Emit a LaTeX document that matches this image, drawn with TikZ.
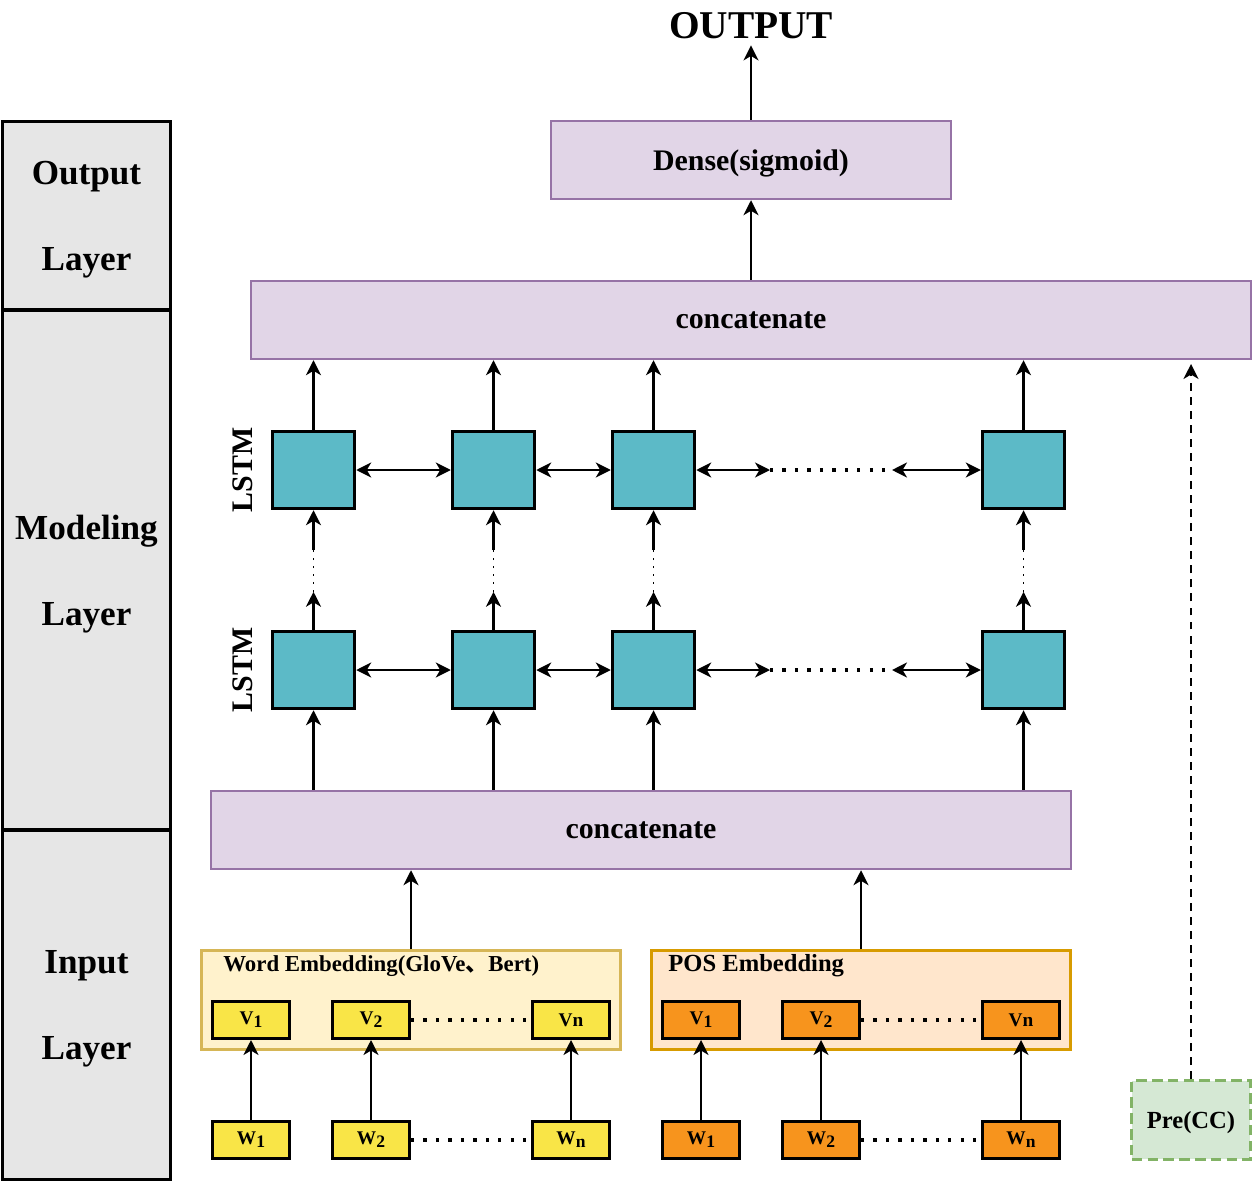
\documentclass[tikz,border=0pt]{standalone}
\usepackage{fontspec}
\setmainfont{Liberation Serif}
\newfontfamily\cjkfont{Noto Sans CJK SC}
\usetikzlibrary{arrows.meta,calc}

\definecolor{layergray}{HTML}{E6E6E6}
\definecolor{violetfill}{HTML}{E1D5E7}
\definecolor{violetline}{HTML}{9673A6}
\definecolor{lstmteal}{HTML}{5CBAC7}
\definecolor{wordfill}{HTML}{FFF2CC}
\definecolor{wordline}{HTML}{D6B656}
\definecolor{posfill}{HTML}{FFE6CC}
\definecolor{posline}{HTML}{D79B00}
\definecolor{tokyellow}{HTML}{F9E547}
\definecolor{tokorange}{HTML}{F7941D}
\definecolor{prefill}{HTML}{D5E8D4}
\definecolor{preline}{HTML}{82B366}

\newcommand{\tsub}[1]{\raisebox{-0.35ex}{\fontsize{10}{10}\selectfont #1}}

\begin{document}
\begin{tikzpicture}[x=0.02cm,y=-0.02cm,font=\bfseries,
	arr/.style={line width=1.4pt,-{Stealth[length=8.5pt,width=8.5pt,inset=2.5pt]}},
	darr/.style={line width=1.4pt,{Stealth[length=8.5pt,width=8.5pt,inset=2.5pt]}-{Stealth[length=8.5pt,width=8.5pt,inset=2.5pt]}},
	hdots/.style={line width=1.8pt,dash pattern=on 1.8pt off 5.3pt},
	vdots/.style={line width=1.1pt,dash pattern=on 1.1pt off 3.4pt},
	layerbox/.style={draw,line width=1.7pt,fill=layergray,minimum width=3.36cm,inner sep=0pt,align=center,text depth=0pt,font=\bfseries\fontsize{20}{49}\selectfont},
	purplebox/.style={draw=violetline,line width=1.4pt,fill=violetfill,minimum height=1.56cm,inner sep=0pt,text depth=0pt,font=\bfseries\fontsize{17}{20}\selectfont},
	lstm/.style={draw,line width=1.7pt,fill=lstmteal,minimum width=1.65cm,minimum height=1.55cm,inner sep=0pt},
	embbox/.style={line width=1.5pt,minimum width=8.37cm,minimum height=1.97cm,inner sep=0pt},
	tokbox/.style={draw,line width=1.7pt,minimum width=1.54cm,minimum height=0.74cm,inner sep=0pt,font=\bfseries\fontsize{11}{13}\selectfont},
	]
	\useasboundingbox (0,0) rectangle (1253,1182);

	% layer column
	\node[layerbox,minimum height=3.77cm] (outlayer) at (86.5,215.75) {Output\\Layer};
	\node[layerbox,minimum height=10.4cm] (modlayer) at (86.5,570) {Modeling\\Layer};
	\node[layerbox,minimum height=6.99cm] (inlayer) at (86.5,1004.75) {Input\\Layer};

	% output part
	\node[font=\bfseries\fontsize{22.4}{26}\selectfont] (output) at (751,26) {OUTPUT};
	\node[purplebox,minimum width=8cm] (dense) at (751,160) {Dense(sigmoid)};
	\node[purplebox,minimum width=20cm] (topcat) at (751,320) {concatenate};
	\node[purplebox,minimum width=17.2cm] (botcat) at (641,830) {concatenate};
	\draw[arr] (dense.north) -- (output.south);
	\draw[arr] (topcat.north) -- (dense.south);

	% lstm grid
	\foreach \r/\y in {a/670,b/470}{
		\foreach \i/\x in {1/313.5,2/493.5,3/653.5,4/1023.5}
			\node[lstm] (l\r\i) at (\x,\y) {};
		\coordinate (l\r L) at (770,\y);
		\coordinate (l\r R) at (892,\y);
		\draw[darr] (l\r1.east) -- (l\r2.west);
		\draw[darr] (l\r2.east) -- (l\r3.west);
		\draw[darr] (l\r3.east) -- (l\r L);
		\draw[hdots] (l\r L) -- (l\r R);
		\draw[darr] (l\r R) -- (l\r4.west);
		\node[rotate=90,font=\bfseries\fontsize{17}{20}\selectfont] (lab\r) at (243,\y) {LSTM};
	}
	\foreach \i in {1,...,4}{
		\coordinate (m\i a) at ($(la\i.north)+(0,-38)$);
		\coordinate (m\i b) at ($(lb\i.south)+(0,40)$);
		\draw[arr] (la\i.north) -- (m\i a);
		\draw[vdots] (m\i a) -- (m\i b);
		\draw[arr] (m\i b) -- (lb\i.south);
		\draw[arr] (la\i.south |- botcat.north) -- (la\i.south);
		\draw[arr] (lb\i.north) -- (lb\i.north |- topcat.south);
	}

	% embeddings
	\node[embbox,draw=wordline,fill=wordfill] (word) at (411,1000) {};
	\node[embbox,draw=posline,fill=posfill] (pos) at (861,1000) {};
	\node[anchor=west,inner sep=0pt,font=\bfseries\fontsize{13}{15}\selectfont] (wordlab) at (223,966) {Word Embedding(GloVe{\cjkfont\bfseries 、}Bert)};
	\node[anchor=west,inner sep=0pt,font=\bfseries\fontsize{14}{16}\selectfont] (poslab) at (668,966) {POS Embedding};
	\draw[arr] (word.north) -- (word.north |- botcat.south);
	\draw[arr] (pos.north) -- (pos.north |- botcat.south);

	\foreach \g/\c/\a/\b/\e in {w/tokyellow/251/371/571,p/tokorange/701/821/1021}{
		\node[tokbox,fill=\c] (\g v1) at (\a,1020) {V\tsub{1}};
		\node[tokbox,fill=\c] (\g v2) at (\b,1020) {V\tsub{2}};
		\node[tokbox,fill=\c] (\g v3) at (\e,1020) {Vn};
		\node[tokbox,fill=\c] (\g w1) at (\a,1140) {W\tsub{1}};
		\node[tokbox,fill=\c] (\g w2) at (\b,1140) {W\tsub{2}};
		\node[tokbox,fill=\c] (\g w3) at (\e,1140) {W\tsub{n}};
		\draw[hdots] (\g v2.east) -- (\g v3.west);
		\draw[hdots] (\g w2.east) -- (\g w3.west);
		\foreach \k in {1,2,3}
			\draw[arr] (\g w\k.north) -- (\g v\k.south);
	}

	% pre(cc)
	\node[draw=preline,fill=prefill,line width=1.7pt,dash pattern=on 6pt off 3pt,minimum width=2.37cm,minimum height=1.57cm,inner sep=0pt,text depth=0pt,font=\bfseries\fontsize{14}{16}\selectfont] (pre) at (1191,1120) {Pre(CC)};
	\coordinate (pretip) at (1191,364);
	\draw[arr,dash pattern=on 4.5pt off 3.5pt] (pre.north) -- (pretip);
\end{tikzpicture}
\end{document}
